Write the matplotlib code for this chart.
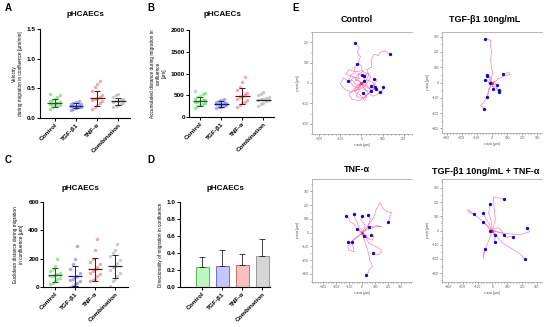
import matplotlib.pyplot as plt
import numpy as np
from matplotlib.ticker import MultipleLocator

plt.rcParams['font.family'] = ['Liberation Sans', 'DejaVu Sans']
W, H = 550, 327

groups = ['Control', 'TGF-β1', 'TNF-α', 'Combination']
pt_colors = ['#5fd35f', '#6f6fe8', '#e87070', '#a8a8a8']
line_colors = ['#1e5e1e', '#1a1a70', '#5a1010', '#2a2a2a']
bar_fill = ['#bff5bf', '#c6c6f7', '#f7c0c0', '#d6d6d6']
bar_edge = ['#3cb43c', '#5a5ad0', '#d05a5a', '#8c8c8c']

# A: velocity [um/min]
vel_ctrl = [0.16, 0.18, 0.20, 0.21, 0.22, 0.23, 0.24, 0.25, 0.26, 0.27, 0.28, 0.30, 0.32, 0.35, 0.38, 0.40]
vel_tgf = [0.14, 0.16, 0.17, 0.18, 0.19, 0.20, 0.21, 0.21, 0.22, 0.23, 0.24, 0.25, 0.27, 0.28]
vel_tnf = [0.15, 0.18, 0.22, 0.25, 0.28, 0.30, 0.32, 0.34, 0.36, 0.38, 0.45, 0.52, 0.58, 0.63]
vel_comb = [0.18, 0.20, 0.22, 0.24, 0.26, 0.27, 0.28, 0.29, 0.30, 0.32, 0.35, 0.38, 0.40]
vel_mean = [0.25, 0.21, 0.33, 0.28]
vel_sd = [0.07, 0.04, 0.13, 0.06]

# B: accumulated distance [um]
acc_ctrl = [200, 250, 280, 300, 320, 340, 350, 360, 380, 400, 420, 450, 480, 520, 560, 600]
acc_tgf = [200, 220, 240, 260, 280, 290, 300, 310, 320, 330, 350, 370, 390, 410]
acc_tnf = [220, 280, 320, 350, 380, 420, 450, 480, 520, 560, 620, 700, 800, 920]
acc_comb = [250, 300, 330, 360, 380, 400, 410, 420, 440, 470, 500, 540, 570]
acc_mean = [360, 300, 480, 400]
acc_sd = [100, 70, 190, 0]

# C: euclidean distance [um]
euc_ctrl = [20, 30, 40, 55, 65, 75, 80, 85, 90, 100, 110, 130, 150, 200]
euc_tgf = [0, 10, 20, 30, 40, 50, 60, 70, 80, 100, 130, 160, 200, 290]
euc_tnf = [40, 50, 60, 75, 90, 100, 115, 125, 140, 160, 180, 200, 260, 340]
euc_comb = [10, 40, 60, 80, 100, 120, 140, 150, 170, 190, 220, 240, 260, 305]
euc_mean = [85, 80, 125, 145]
euc_sd = [50, 70, 80, 80]

# D: directionality
dir_mean = [0.24, 0.25, 0.26, 0.36]
dir_sd = [0.11, 0.19, 0.13, 0.20]

# E: cell tracks [um], each ends at the blue dot
tracks_ctrl = [
    [(0, 0), (-15, 15), (-30, 10), (-20, 40), (5, 55), (0, 80), (-15, 100), (-5, 130), (-20, 150), (-10, 175), (-25, 190), (-32, 197)],
    [(0, 0), (20, 10), (35, 40), (25, 65), (50, 80), (45, 110), (60, 140), (80, 135), (90, 150), (110, 158), (120, 150), (135, 143)],
    [(0, 0), (-25, -10), (-45, 15), (-60, 5), (-50, 40), (-30, 50), (-35, 75), (-20, 95)],
    [(0, 0), (-15, -25), (-40, -15), (-55, 10), (-35, 30), (-10, 20), (-15, 45), (1, 37)],
    [(0, 0), (15, -15), (30, 5), (45, 30), (30, 50), (15, 40), (10, 35)],
    [(0, 0), (25, -10), (40, -30), (60, -10), (75, 15), (59, 21)],
    [(0, 0), (-20, -30), (-50, -45), (-80, -30), (-100, -5), (-85, 25), (-65, 11)],
    [(0, 0), (10, -25), (35, -45), (55, -30), (60, -5), (46, -14)],
    [(0, 0), (-10, -35), (-25, -65), (0, -75), (30, -55), (50, -40), (65, -20)],
    [(0, 0), (30, 15), (55, 0), (70, -25), (85, -45), (105, -30), (100, -18)],
    [(0, 0), (-20, -15), (-35, -40), (-10, -30), (20, -15), (45, -35), (68, -30)],
    [(0, 0), (-30, -25), (-60, -55), (-45, -80), (-10, -88), (15, -70), (30, -55), (46, -38)],
    [(0, 0), (15, -30), (30, -50), (55, -65), (75, -55), (90, -46)],
    [(0, 0), (-10, -20), (-30, -45), (-5, -60), (15, -85), (25, -65), (8, -50)],
    [(0, 0), (-40, 30), (-75, 45), (-60, 65), (-30, 55), (0, 60), (25, 45), (15, 20), (10, 10)],
]
tracks_tgf = [
    [(0, 0), (-5, 30), (5, 60), (-5, 100), (-8, 150), (-3, 200), (-10, 240), (-8, 275), (-25, 282), (-47, 287)],
    [(0, 0), (-15, 15), (-5, 30), (-25, 40), (-36, 51)],
    [(0, 0), (-10, 10), (-20, 25), (-15, 35), (-33, 40)],
    [(0, 0), (-20, -5), (-30, 15), (-47, 18)],
    [(0, 0), (25, 10), (45, 25), (70, 40), (95, 45), (120, 55), (110, 65), (90, 60), (71, 53)],
    [(0, 0), (10, -10), (0, -25), (15, -35), (8, -42)],
    [(0, 0), (15, 5), (25, -10), (30, -16)],
    [(0, 0), (20, -15), (35, -25), (30, -40), (43, -47)],
    [(0, 0), (5, -25), (25, -30), (35, -50), (46, -60)],
    [(0, 0), (-10, -25), (-25, -45), (-20, -70), (-34, -95)],
    [(0, 0), (-10, -30), (-25, -60), (-35, -95), (-55, -130), (-75, -150), (-65, -160), (-51, -171)],
    [(0, 0), (-8, 8), (-15, -5), (-12, -5)],
]
tracks_tnf = [
    [(0, 0), (-20, 15), (-45, 30), (-60, 60), (-90, 80), (-105, 110), (-121, 120)],
    [(0, 0), (-10, 30), (-30, 50), (-40, 80), (-55, 105), (-62, 132)],
    [(0, 0), (15, 25), (25, 55), (5, 75), (-10, 95), (0, 117)],
    [(0, 0), (25, 20), (45, 45), (55, 75), (65, 100), (46, 127)],
    [(0, 0), (30, 25), (60, 70), (90, 110), (110, 170), (130, 200), (138, 219), (150, 200), (160, 175),
     (185, 160), (200, 150), (228, 146), (215, 120), (210, 95), (198, 76)],
    [(0, 0), (-15, 5), (-25, 25), (-38, 28)],
    [(0, 0), (40, 20), (80, 35), (120, 45), (150, 45), (110, 50), (80, 45), (51, 42)],
    [(0, 0), (-20, -20), (-45, -30), (-70, -55), (-90, -75), (-105, -66)],
    [(0, 0), (-30, -30), (-70, -60), (-110, -100), (-100, -130), (-60, -140), (-70, -100), (-77, -66)],
    [(0, 0), (20, -15), (40, -40), (30, -25), (18, -28)],
    [(0, 0), (30, -20), (55, -50), (80, -55), (90, -30), (72, -16)],
    [(0, 0), (30, -40), (55, -80), (95, -95), (140, -120), (151, -144), (125, -160), (100, -160), (82, -149)],
    [(0, 0), (15, -50), (35, -100), (50, -150), (60, -200), (75, -230), (80, -250), (55, -270), (50, -290), (31, -308)],
]
tracks_comb = [
    [(0, 0), (10, 40), (20, 80), (15, 130), (10, 180), (5, 238), (25, 232), (40, 230), (60, 225), (76, 220)],
    [(0, 0), (-5, 40), (-10, 80), (-25, 120), (-20, 150), (-15, 187)],
    [(0, 0), (-30, 25), (-60, 60), (-90, 85), (-130, 120), (-168, 149), (-160, 130), (-150, 125), (-127, 114)],
    [(0, 0), (-15, 30), (-30, 60), (-45, 85), (-50, 100), (-64, 121)],
    [(0, 0), (-20, 15), (-30, 30), (-45, 45), (-60, 58)],
    [(0, 0), (-10, 5), (-15, -1)],
    [(0, 0), (10, -15), (17, -30)],
    [(0, 0), (20, 15), (40, 20), (60, 0), (80, -30)],
    [(0, 0), (30, -10), (60, -20), (100, -50), (120, -40), (136, -44)],
    [(0, 0), (40, -10), (80, -20), (130, -25), (180, -30), (220, -20), (253, -8), (240, 10), (231, 15)],
    [(0, 0), (10, -30), (20, -50), (10, -65), (17, -83)],
    [(0, 0), (-10, -30), (-20, -60), (-40, -110), (-60, -160), (-62, -196), (-55, -160), (-53, -128)],
    [(0, 0), (30, -40), (60, -80), (100, -110), (150, -140), (190, -170), (222, -201)],
]

fig = plt.figure(figsize=(5.5, 3.27), dpi=100)


def px_axes(l, t, r, b):
    return fig.add_axes([l / W, 1 - b / H, (r - l) / W, (b - t) / H])


def ftext(x, y, s, **kw):
    fig.text(x / W, 1 - y / H, s, **kw)


def style_left(ax, ylabel, xlim):
    for s in ['top', 'right']:
        ax.spines[s].set_visible(False)
    for s in ['left', 'bottom']:
        ax.spines[s].set_linewidth(0.8)
    ax.tick_params(length=2, width=0.7, labelsize=4.6, pad=1)
    ax.set_xlim(*xlim)
    ax.set_xticks(range(4))
    ax.set_xticklabels(groups, rotation=45, ha='right', rotation_mode='anchor', fontweight='bold')
    for lab in ax.get_yticklabels():
        lab.set_fontweight('bold')
    ax.set_ylabel(ylabel, fontsize=3.4, labelpad=3)


def dot_panel(ax, data, means, sds):
    for i, vals in enumerate(data):
        vals = np.sort(vals)
        off = (np.arange(len(vals)) % 5 - 2) * 0.12
        ax.scatter(i + off, vals, s=6, color=pt_colors[i], alpha=0.6, linewidths=0, zorder=2)
        ax.hlines(means[i], i - 0.35, i + 0.35, color=line_colors[i], lw=0.9, zorder=3)
        if sds[i] > 0:
            ax.errorbar(i, means[i], yerr=sds[i], color=line_colors[i], lw=0.7,
                        capsize=2, capthick=0.7, zorder=3)


# ── A ──
axA = px_axes(40, 29, 130, 118)
dot_panel(axA, [vel_ctrl, vel_tgf, vel_tnf, vel_comb], vel_mean, vel_sd)
axA.set_ylim(0, 1.5)
axA.set_yticks([0, 0.5, 1.0, 1.5])
axA.set_yticklabels(['0.0', '0.5', '1.0', '1.5'])
style_left(axA, 'Velocity\nduring migration in confluence [µm/min]', (-0.7, 3.55))

# ── B ──
axB = px_axes(189, 30, 274, 117)
dot_panel(axB, [acc_ctrl, acc_tgf, acc_tnf, acc_comb], acc_mean, acc_sd)
axB.set_ylim(0, 2000)
axB.set_yticks([0, 500, 1000, 1500, 2000])
style_left(axB, 'Accumulated distance during migration in\nconfluence\n[µm]', (-0.52, 3.5))

# ── C ──
axC = px_axes(43, 202, 128, 287)
dot_panel(axC, [euc_ctrl, euc_tgf, euc_tnf, euc_comb], euc_mean, euc_sd)
axC.set_ylim(0, 600)
axC.set_yticks([0, 200, 400, 600])
style_left(axC, 'Euclidean distance during migration\nin confluence [µm]', (-0.6, 3.65))

# ── D ──
axD = px_axes(180, 202, 270, 287)
axD.bar(range(4), dir_mean, width=0.65, color=bar_fill, edgecolor=bar_edge, linewidth=0.6, zorder=2)
axD.errorbar(range(4), dir_mean, yerr=[np.zeros(4), dir_sd], fmt='none', ecolor='#222222',
             elinewidth=0.6, capsize=2, capthick=0.6, zorder=3)
axD.set_ylim(0, 1.0)
axD.set_yticks([0, 0.2, 0.4, 0.6, 0.8, 1.0])
axD.set_yticklabels(['0.0', '0.2', '0.4', '0.6', '0.8', '1.0'])
style_left(axD, 'Directionality of migration in confluence', (-1.1, 3.4))

# titles and panel letters
for x, y in [(85, 15), (222, 15), (80, 188), (225, 189)]:
    ftext(x, y, 'pHCAECs', fontsize=5.8, fontweight='bold', ha='center', va='center')
for x, y, s in [(5, 8, 'A'), (147, 8, 'B'), (5, 160, 'C'), (147, 160, 'D'), (292, 8, 'E')]:
    ftext(x, y, s, fontsize=7, fontweight='bold', ha='left', va='center')


# ── E: tracks ──
def track_panel(box, tracks, xlim, ylim, ticks, title, tpos):
    ax = px_axes(*box)
    for tr in tracks:
        xy = np.array(tr)
        ax.plot(xy[:, 0], xy[:, 1], color='#ff5aa5', lw=0.45, alpha=0.85, zorder=2)
        ax.plot(xy[-1, 0], xy[-1, 1], 'o', color='#0a0acc', ms=2.4, mec='none', zorder=3)
    ax.plot(0, 0, 'o', color='#e8306e', ms=2.2, mec='none', zorder=2)
    ax.set_xlim(*xlim)
    ax.set_ylim(*ylim)
    ax.set_xticks(ticks)
    ax.set_yticks(ticks)
    ax.xaxis.set_minor_locator(MultipleLocator(20))
    ax.yaxis.set_minor_locator(MultipleLocator(50))
    ax.spines['right'].set_visible(False)
    for s in ['left', 'bottom', 'top']:
        ax.spines[s].set_color('#9a9a9a')
        ax.spines[s].set_linewidth(0.5)
    ax.tick_params(which='both', direction='out', labelsize=2.3, colors='#555555', pad=1,
                   length=1.3, width=0.4)
    ax.tick_params(which='minor', length=0.8)
    ax.set_xlabel('x axis [µm]', fontsize=2.3, labelpad=1, color='#444444')
    ax.set_ylabel('y axis [µm]', fontsize=2.3, labelpad=1, color='#444444')
    ftext(tpos[0], tpos[1], title, fontsize=6.5, fontweight='bold', ha='center', va='center')


track_panel((312, 32, 412, 134), tracks_ctrl, (-235, 240), (-250, 250),
            [-200, -100, 0, 100, 200], 'Control', (357, 19))
track_panel((442, 32, 542, 133), tracks_tgf, (-330, 330), (-330, 330),
            [-300, -200, -100, 0, 100, 200, 300], 'TGF-β1 10ng/mL', (485, 20))
track_panel((312, 179, 412, 282), tracks_tnf, (-385, 385), (-360, 390),
            [-300, -200, -100, 0, 100, 200, 300], 'TNF-α', (357, 170))
track_panel((442, 179, 542, 282), tracks_comb, (-340, 335), (-363, 363),
            [-300, -200, -100, 0, 100, 200, 300], 'TGF-β1 10ng/mL + TNF-α', (486, 171))

fig.savefig('out.png', dpi=100, facecolor='white')
